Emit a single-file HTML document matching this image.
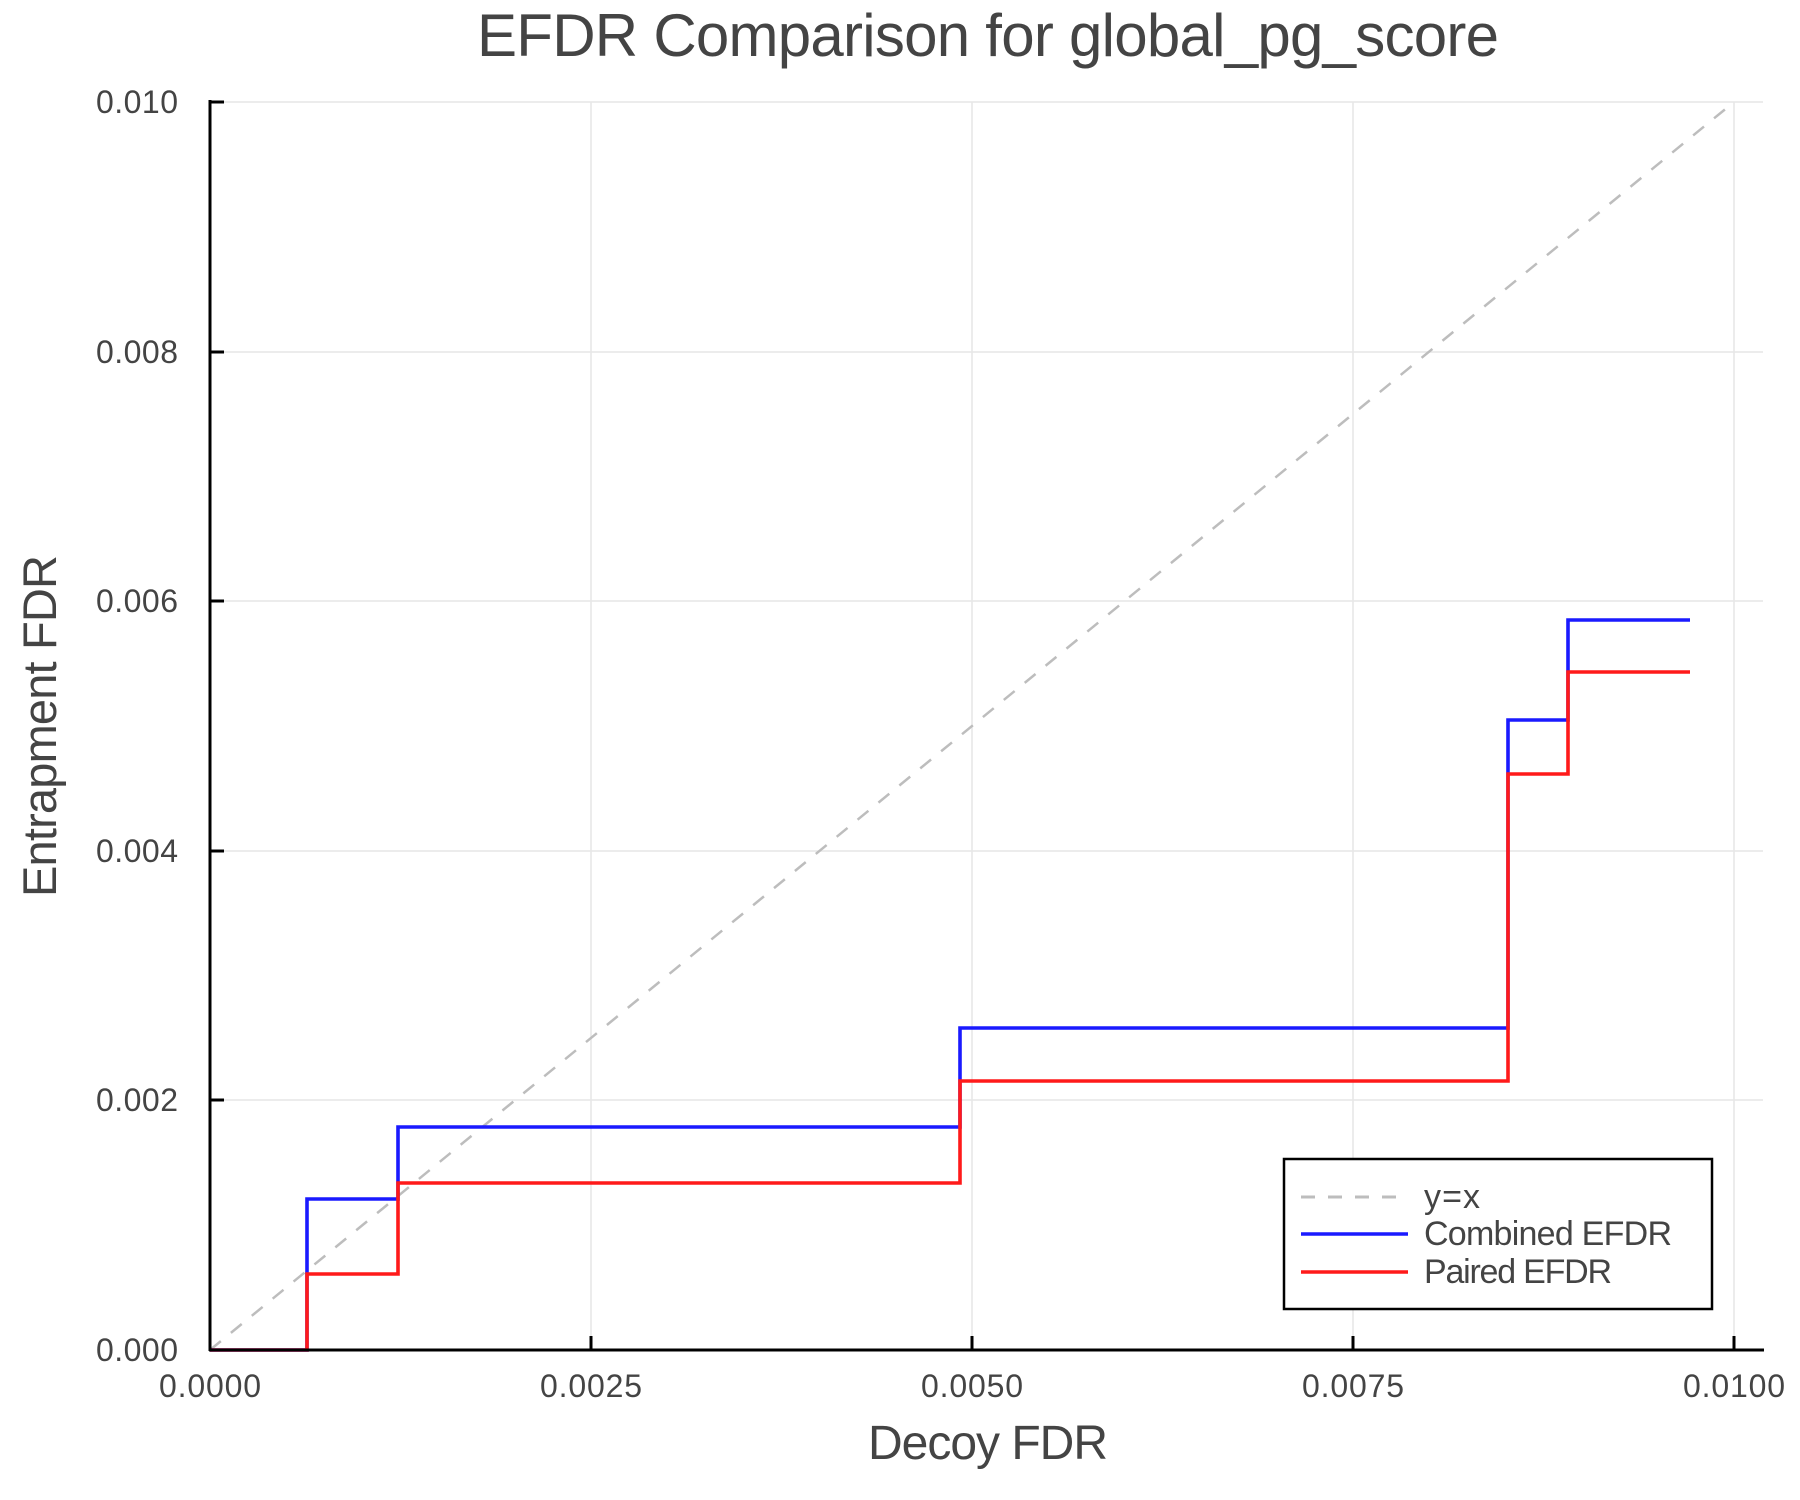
<!DOCTYPE html>
<html><head><meta charset="utf-8"><style>
html,body{margin:0;padding:0;background:#fff;}
svg{display:block;}
text{font-family:"Liberation Sans",sans-serif;fill:#444;}
</style></head><body>
<svg width="1800" height="1500" viewBox="0 0 1800 1500" xmlns="http://www.w3.org/2000/svg">
<rect width="1800" height="1500" fill="#fff"/>
<g stroke="#e6e6e6" stroke-width="1.5">
<line x1="591" y1="102" x2="591" y2="1350"/>
<line x1="972" y1="102" x2="972" y2="1350"/>
<line x1="1353" y1="102" x2="1353" y2="1350"/>
<line x1="1734" y1="102" x2="1734" y2="1350"/>
<line x1="210" y1="102" x2="1763" y2="102"/>
<line x1="210" y1="352" x2="1763" y2="352"/>
<line x1="210" y1="601" x2="1763" y2="601"/>
<line x1="210" y1="851" x2="1763" y2="851"/>
<line x1="210" y1="1100" x2="1763" y2="1100"/>
</g>
<line x1="210" y1="1350" x2="1734" y2="102" stroke="#bdbdbd" stroke-width="2.5" stroke-dasharray="14,13"/>
<polyline fill="none" stroke="#1a1aff" stroke-width="3.6" points="210,1350 307,1350 307,1199 398,1199 398,1127 960,1127 960,1028 1508,1028 1508,720 1568,720 1568,620 1690,620"/>
<polyline fill="none" stroke="#ff1a1a" stroke-width="3.6" points="210,1350 307,1350 307,1274 398,1274 398,1183 960,1183 960,1081 1508,1081 1508,774 1568,774 1568,672 1690,672"/>
<g stroke="#000" stroke-width="3">
<line x1="210" y1="100" x2="210" y2="1351"/>
<line x1="209" y1="1350" x2="1764" y2="1350"/>
<line x1="210" y1="102" x2="224" y2="102"/>
<line x1="210" y1="352" x2="224" y2="352"/>
<line x1="210" y1="601" x2="224" y2="601"/>
<line x1="210" y1="851" x2="224" y2="851"/>
<line x1="210" y1="1100" x2="224" y2="1100"/>
<line x1="591" y1="1350" x2="591" y2="1336"/>
<line x1="972" y1="1350" x2="972" y2="1336"/>
<line x1="1353" y1="1350" x2="1353" y2="1336"/>
<line x1="1734" y1="1350" x2="1734" y2="1336"/>
</g>
<g font-size="32" text-anchor="end">
<text x="178" y="113" textLength="82">0.010</text>
<text x="178" y="363" textLength="82">0.008</text>
<text x="178" y="612" textLength="82">0.006</text>
<text x="178" y="862" textLength="82">0.004</text>
<text x="178" y="1111" textLength="82">0.002</text>
<text x="178" y="1361" textLength="82">0.000</text>
</g>
<g font-size="32" text-anchor="middle">
<text x="210" y="1397" textLength="102">0.0000</text>
<text x="591" y="1397" textLength="102">0.0025</text>
<text x="972" y="1397" textLength="102">0.0050</text>
<text x="1353" y="1397" textLength="102">0.0075</text>
<text x="1734" y="1397" textLength="102">0.0100</text>
</g>
<text x="988" y="56" font-size="60" text-anchor="middle" textLength="1022">EFDR Comparison for global_pg_score</text>
<text x="988" y="1459" font-size="48" text-anchor="middle" textLength="240">Decoy FDR</text>
<text transform="translate(56,726) rotate(-90)" font-size="47" text-anchor="middle" textLength="342">Entrapment FDR</text>
<rect x="1284" y="1159" width="428" height="150" fill="#fff" stroke="#000" stroke-width="2.5"/>
<line x1="1301" y1="1197" x2="1408" y2="1197" stroke="#bdbdbd" stroke-width="3" stroke-dasharray="14,13"/>
<line x1="1301" y1="1234" x2="1408" y2="1234" stroke="#1a1aff" stroke-width="3.6"/>
<line x1="1301" y1="1272" x2="1408" y2="1272" stroke="#ff1a1a" stroke-width="3.6"/>
<g font-size="34">
<text x="1424" y="1208" textLength="56">y=x</text>
<text x="1424" y="1245" textLength="248">Combined EFDR</text>
<text x="1424" y="1283" textLength="188">Paired EFDR</text>
</g>
</svg>
</body></html>
